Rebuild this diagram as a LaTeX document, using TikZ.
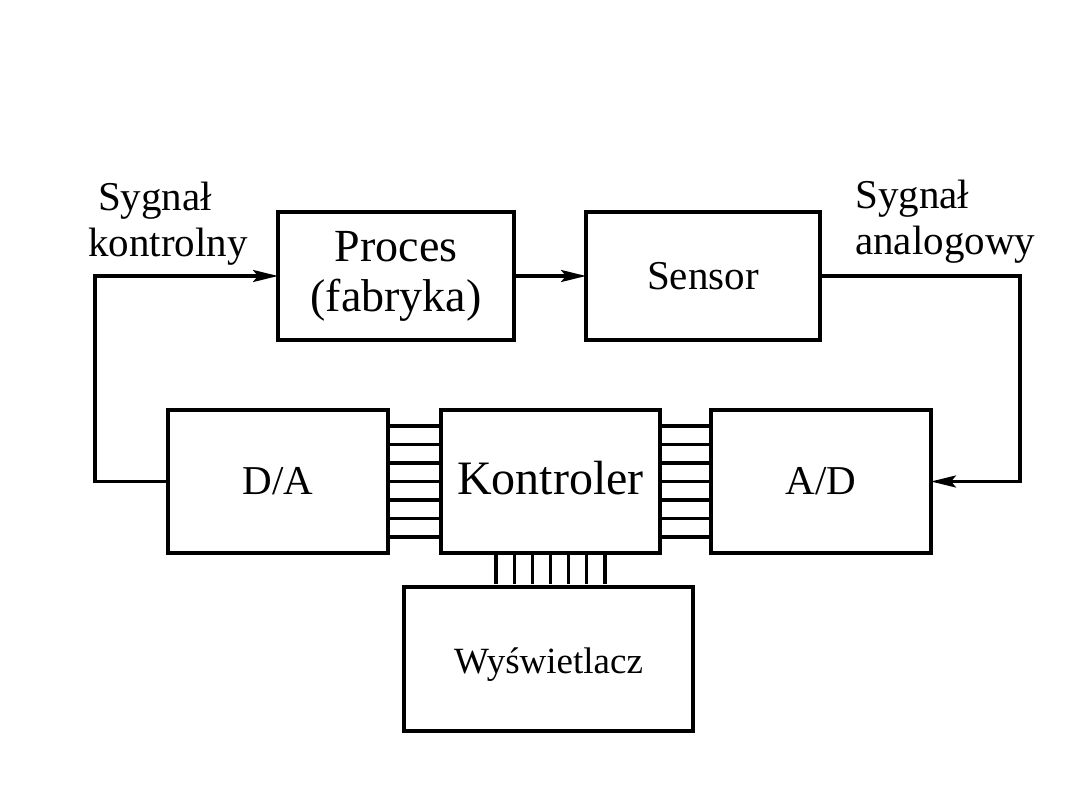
\documentclass[tikz,border=0pt]{standalone}
\usepackage{fontspec}
\setmainfont{Liberation Serif}
\usepackage{xcolor}
\definecolor{cMain}{HTML}{000000}
\usepackage{tikz}
\usetikzlibrary{positioning,arrows.meta,calc}
\tikzset{
  node-box/.style={draw=cMain,line width=3.6pt,inner sep=0pt,outer sep=0pt,
    minimum width=220pt,minimum height=143pt,align=center,
    font=\fontsize{41}{44}\selectfont},
  node-label/.style={align=left,inner sep=0pt,
    font=\fontsize{41}{46}\selectfont},
  arrow/.style={-{Stealth[length=25pt,width=12pt,inset=5pt]},line width=3.2pt,draw=cMain},
  bus-line/.style={line width=3.2pt,draw=cMain},
}

\begin{document}
\begin{tikzpicture}[x=1pt,y=-1pt,node distance=53pt and 53pt]
  \useasboundingbox[fill=white] (0,0) rectangle (1080,810);
  % upper row
  \node[node-box,minimum width=236pt,minimum height=128pt,
    font=\fontsize{46}{50}\selectfont] (proc) at (396,276) {Proces\\(fabryka)};
  \node[node-box,minimum width=234pt,minimum height=128pt,right=72pt of proc] (sens) {Sensor};
  % lower row
  \node[node-box,minimum width=219pt,font=\fontsize{48}{50}\selectfont] (ctrl) at (550.5,481.5)
    {\raisebox{3pt}[\height][\depth]{Kontroler}};
  \node[node-box,left=53pt of ctrl] (da) {D/A};
  \node[node-box,right=51pt of ctrl] (ad) {A/D};
  \node[node-box,minimum width=289pt,minimum height=144pt,below=34pt of ctrl,xshift=-2pt,
    font=\fontsize{37}{40}\selectfont] (disp) {\raisebox{-6pt}[\height][\depth]{Wyświetlacz}};
  % labels
  \node[node-label,anchor=west] (lsig) at (88,224) {\hspace*{10pt}Sygnał\\kontrolny};
  \node[node-label,anchor=west] (rsig) at (855,222) {Sygnał\\analogowy};
  % signal path
  \coordinate (fbl) at (95,0);
  \coordinate (fbr) at (1020,0);
  \draw[arrow] (proc) -- (sens);
  \draw[arrow] (da.west) -| (fbl |- proc.west) -- (proc.west);
  \draw[arrow] (sens.east) -| (fbr |- ad.east) -- (ad.east);
  % buses
  \foreach \f in {0.112,0.2413,0.3706,0.5,0.6294,0.7587,0.888}{
    \draw[bus-line] ($(da.north east)!\f!(da.south east)$) -- ($(ctrl.north west)!\f!(ctrl.south west)$);
    \draw[bus-line] ($(ctrl.north east)!\f!(ctrl.south east)$) -- ($(ad.north west)!\f!(ad.south west)$);
  }
  \foreach \f in {0.251,0.334,0.417,0.5,0.583,0.666,0.749}{
    \draw[bus-line,shorten >=3pt] ($(ctrl.south west)!\f!(ctrl.south east)$) coordinate (b)
      -- (b |- disp.north);
  }
\end{tikzpicture}
\end{document}
